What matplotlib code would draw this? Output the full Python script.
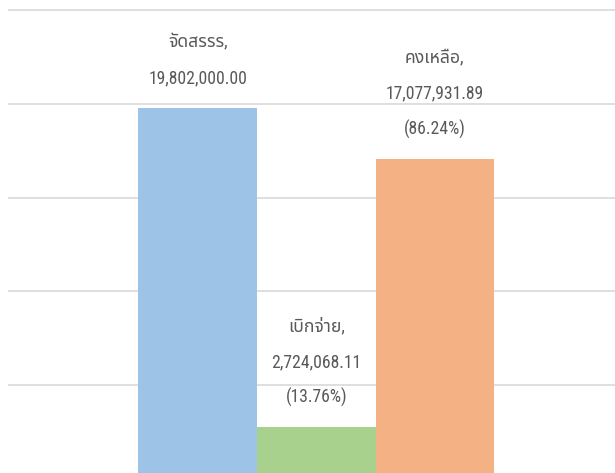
import matplotlib
matplotlib.use("Agg")
import matplotlib.pyplot as plt

# data
categories = ["จัดสรรร", "เบิกจ่าย", "คงเหลือ"]
values = [19802000.00, 2724068.11, 17077931.89]
percents = [None, "13.76%", "86.24%"]
colors = ["#9dc3e6", "#a9d18e", "#f4b183"]
yticks = [0, 5000000, 10000000, 15000000, 20000000, 25000000]

text_color = "#595959"
fonts = ["Roboto Condensed", "Noto Sans Thai", "DejaVu Sans"]

fig = plt.figure(figsize=(6.15, 4.73), dpi=100)
ax = fig.add_axes([8 / 615, 0, 607 / 615, 1])

x = list(range(len(categories)))
ax.bar(x, values, width=1.0, color=colors, zorder=2)

ax.set_yticks(yticks)
# baseline sits just below the bottom edge of the picture
ax.set_ylim(0.27e6, 25.56e6)
ax.set_xlim(-1.6, 3.52)
ax.yaxis.grid(True, color="#d9d9d9", linewidth=1.2, zorder=0)
ax.set_axisbelow(True)
ax.tick_params(left=False, bottom=False, labelleft=False, labelbottom=False)
for s in ax.spines.values():
    s.set_visible(False)

# data labels: category, value, (percent) -- one text per line, even spacing
for xi, name, v, p in zip(x, categories, values, percents):
    lines = [f"{name},", f"{v:,.2f}"]
    if p:
        lines.append(f"({p})")
    for i, line in enumerate(reversed(lines)):
        ax.annotate(line, (xi, v), xytext=(0, 17.3 + 25.9 * i), textcoords="offset points",
                    ha="center", va="baseline", fontsize=12.7, color=text_color,
                    family=fonts, zorder=3)

fig.savefig("out.png", dpi=100)
